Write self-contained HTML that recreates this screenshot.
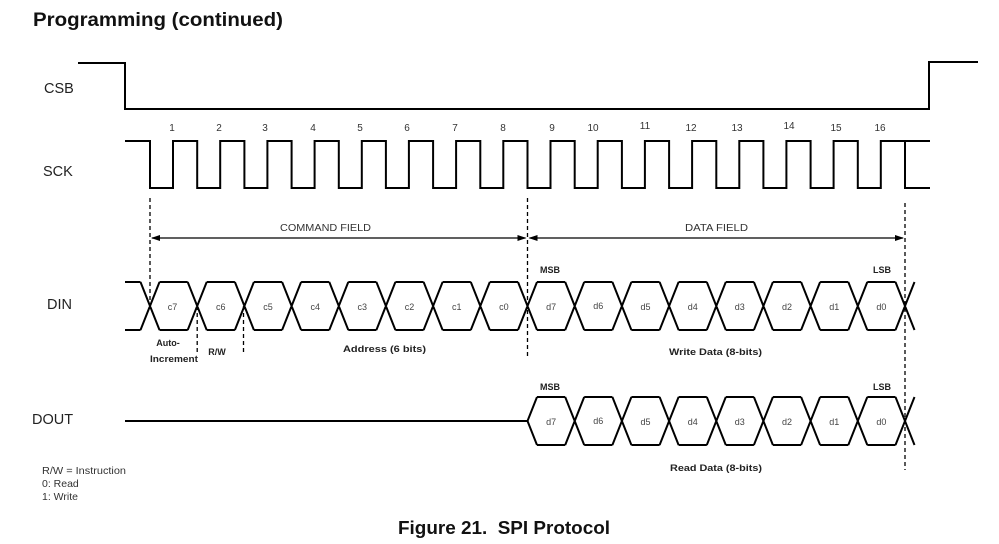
<!DOCTYPE html>
<html><head><meta charset="utf-8"><style>
html,body{margin:0;padding:0;background:#fff;}
svg{display:block;}
text{font-family:"Liberation Sans",Arial,sans-serif;}
</style></head><body>
<svg width="999" height="544" viewBox="0 0 999 544" xmlns="http://www.w3.org/2000/svg" font-family="'Liberation Sans', Arial, sans-serif">
<rect width="999" height="544" fill="#fff"/>
<text x="33" y="26" font-size="19" font-weight="bold" fill="#111" textLength="250" lengthAdjust="spacingAndGlyphs">Programming (continued)</text>

<!-- signal labels -->
<g font-size="14.5" fill="#222">
<text x="44" y="93">CSB</text>
<text x="43" y="176">SCK</text>
<text x="47" y="309">DIN</text>
<text x="32" y="424">DOUT</text>
</g>

<g fill="none" stroke="#000" stroke-width="2" stroke-linejoin="miter">
<!-- CSB -->
<path d="M78,63 H125 V109 H929 V62 H978"/>
<!-- SCK -->
<path d="M125,141 H150 V188 H173 V141 H197.2 V188 H220.2 V141 H244.4 V188 H267.4 V141 H291.6 V188 H314.6 V141 H338.8 V188 H361.8 V141 H385.9 V188 H408.9 V141 H433.1 V188 H456.1 V141 H480.3 V188 H503.3 V141 H527.5 V188 H550.5 V141 H574.7 V188 H597.7 V141 H621.9 V188 H644.9 V141 H669.1 V188 H692.1 V141 H716.3 V188 H739.3 V141 H763.4 V188 H786.4 V141 H810.6 V188 H833.6 V141 H857.8 V188 H880.8 V141 H905 V188 H930 M905,141 H930"/>

<!-- DIN -->
<path d="M125,282 H140.5 M125,330 H140.5
M140.5,282 L159.5,330 M140.5,330 L159.5,282
M187.7,282 L206.7,330 M187.7,330 L206.7,282
M234.9,282 L253.9,330 M234.9,330 L253.9,282
M282.1,282 L301.1,330 M282.1,330 L301.1,282
M329.3,282 L348.3,330 M329.3,330 L348.3,282
M376.4,282 L395.4,330 M376.4,330 L395.4,282
M423.6,282 L442.6,330 M423.6,330 L442.6,282
M470.8,282 L489.8,330 M470.8,330 L489.8,282
M518,282 L537,330 M518,330 L537,282
M565.2,282 L584.2,330 M565.2,330 L584.2,282
M612.4,282 L631.4,330 M612.4,330 L631.4,282
M659.6,282 L678.6,330 M659.6,330 L678.6,282
M706.8,282 L725.8,330 M706.8,330 L725.8,282
M753.9,282 L772.9,330 M753.9,330 L772.9,282
M801.1,282 L820.1,330 M801.1,330 L820.1,282
M848.3,282 L867.3,330 M848.3,330 L867.3,282
M895.5,282 L914.5,330 M895.5,330 L914.5,282
M159.5,282 H187.7 M159.5,330 H187.7
M206.7,282 H234.9 M206.7,330 H234.9
M253.9,282 H282.1 M253.9,330 H282.1
M301.1,282 H329.3 M301.1,330 H329.3
M348.3,282 H376.4 M348.3,330 H376.4
M395.4,282 H423.6 M395.4,330 H423.6
M442.6,282 H470.8 M442.6,330 H470.8
M489.8,282 H518 M489.8,330 H518
M537,282 H565.2 M537,330 H565.2
M584.2,282 H612.4 M584.2,330 H612.4
M631.4,282 H659.6 M631.4,330 H659.6
M678.6,282 H706.8 M678.6,330 H706.8
M725.8,282 H753.9 M725.8,330 H753.9
M772.9,282 H801.1 M772.9,330 H801.1
M820.1,282 H848.3 M820.1,330 H848.3
M867.3,282 H895.5 M867.3,330 H895.5"/>

<!-- DOUT -->
<path d="M125,421 H527.5 L537,397 M527.5,421 L537,445
M565.2,397 L584.2,445 M565.2,445 L584.2,397
M612.4,397 L631.4,445 M612.4,445 L631.4,397
M659.6,397 L678.6,445 M659.6,445 L678.6,397
M706.8,397 L725.8,445 M706.8,445 L725.8,397
M753.9,397 L772.9,445 M753.9,445 L772.9,397
M801.1,397 L820.1,445 M801.1,445 L820.1,397
M848.3,397 L867.3,445 M848.3,445 L867.3,397
M895.5,397 L914.5,445 M895.5,445 L914.5,397
M537,397 H565.2 M537,445 H565.2
M584.2,397 H612.4 M584.2,445 H612.4
M631.4,397 H659.6 M631.4,445 H659.6
M678.6,397 H706.8 M678.6,445 H706.8
M725.8,397 H753.9 M725.8,445 H753.9
M772.9,397 H801.1 M772.9,445 H801.1
M820.1,397 H848.3 M820.1,445 H848.3
M867.3,397 H895.5 M867.3,445 H895.5"/>
</g>

<!-- dashed markers -->
<g stroke="#000" stroke-width="1.3" stroke-dasharray="4 3" fill="none">
<path d="M150,198 V305"/>
<path d="M197.2,306 V353"/>
<path d="M243.5,306 V353"/>
<path d="M527.5,198 V356"/>
<path d="M905,203 V470"/>
</g>

<!-- field arrows -->
<g stroke="#000" stroke-width="1.2">
<path d="M152,238 H525.5 M529.5,238 H903"/>
</g>
<g fill="#000">
<polygon points="151,238 160,235 160,241"/>
<polygon points="526.5,238 517.5,235 517.5,241"/>
<polygon points="528.5,238 537.5,235 537.5,241"/>
<polygon points="904,238 895,235 895,241"/>
</g>
<g font-size="10.5" fill="#333" text-anchor="middle" font-family="'Liberation Sans', Arial, sans-serif">
<text x="325.5" y="231" textLength="91" lengthAdjust="spacingAndGlyphs">COMMAND FIELD</text>
<text x="716.5" y="231" textLength="63" lengthAdjust="spacingAndGlyphs">DATA FIELD</text>
</g>

<!-- clock numbers -->
<g font-size="10" fill="#333" text-anchor="middle" font-family="'Liberation Sans', Arial, sans-serif">
<text x="172" y="131">1</text>
<text x="219" y="131">2</text>
<text x="265" y="131">3</text>
<text x="313" y="131">4</text>
<text x="360" y="131">5</text>
<text x="407" y="131">6</text>
<text x="455" y="131">7</text>
<text x="503" y="131">8</text>
<text x="552" y="131">9</text>
<text x="593" y="131">10</text>
<text x="645" y="129">11</text>
<text x="691" y="131">12</text>
<text x="737" y="131">13</text>
<text x="789" y="129">14</text>
<text x="836" y="131">15</text>
<text x="880" y="131">16</text>
</g>

<!-- cell labels -->
<g font-size="9" fill="#444" text-anchor="middle" font-family="'Liberation Sans', Arial, sans-serif">
<text x="172.5" y="310">c7</text>
<text x="220.8" y="310">c6</text>
<text x="268" y="310">c5</text>
<text x="315.2" y="310">c4</text>
<text x="362.3" y="310">c3</text>
<text x="409.5" y="310">c2</text>
<text x="456.7" y="310">c1</text>
<text x="503.9" y="310">c0</text>
<text x="551.1" y="310">d7</text>
<text x="598.3" y="309">d6</text>
<text x="645.5" y="310">d5</text>
<text x="692.7" y="310">d4</text>
<text x="739.8" y="310">d3</text>
<text x="787" y="310">d2</text>
<text x="834.2" y="310">d1</text>
<text x="881.4" y="310">d0</text>

<text x="551.1" y="425">d7</text>
<text x="598.3" y="424">d6</text>
<text x="645.5" y="425">d5</text>
<text x="692.7" y="425">d4</text>
<text x="739.8" y="425">d3</text>
<text x="787" y="425">d2</text>
<text x="834.2" y="425">d1</text>
<text x="881.4" y="425">d0</text>
</g>

<!-- bold annotations -->
<g font-size="9" font-weight="bold" fill="#222" text-anchor="middle" font-family="'Liberation Sans', Arial, sans-serif">
<text x="550" y="273">MSB</text>
<text x="882" y="273">LSB</text>
<text x="550" y="390">MSB</text>
<text x="882" y="390">LSB</text>
<text x="715.5" y="355" textLength="93" lengthAdjust="spacingAndGlyphs" font-family="'Liberation Sans', Arial, sans-serif">Write Data (8-bits)</text>
<text x="716" y="471" textLength="92" lengthAdjust="spacingAndGlyphs" font-family="'Liberation Sans', Arial, sans-serif">Read Data (8-bits)</text>
<text x="384.5" y="352" textLength="83" lengthAdjust="spacingAndGlyphs" font-family="'Liberation Sans', Arial, sans-serif">Address (6 bits)</text>
<text x="168" y="346" font-family="'Liberation Sans', Arial, sans-serif">Auto-</text>
<text x="174" y="362" textLength="48" lengthAdjust="spacingAndGlyphs" font-family="'Liberation Sans', Arial, sans-serif">Increment</text>
<text x="217" y="355" font-family="'Liberation Sans', Arial, sans-serif">R/W</text>
</g>

<!-- legend -->
<g font-size="10.5" fill="#333" font-family="'Liberation Sans', Arial, sans-serif">
<text x="42" y="474" textLength="84" lengthAdjust="spacingAndGlyphs">R/W = Instruction</text>
<text x="42" y="487">0: Read</text>
<text x="42" y="500">1: Write</text>
</g>

<text x="398" y="534" font-size="18" font-weight="bold" fill="#111" textLength="212" lengthAdjust="spacingAndGlyphs" font-family="'Liberation Sans', Arial, sans-serif">Figure 21.&#160; SPI Protocol</text>
</svg>
</body></html>
